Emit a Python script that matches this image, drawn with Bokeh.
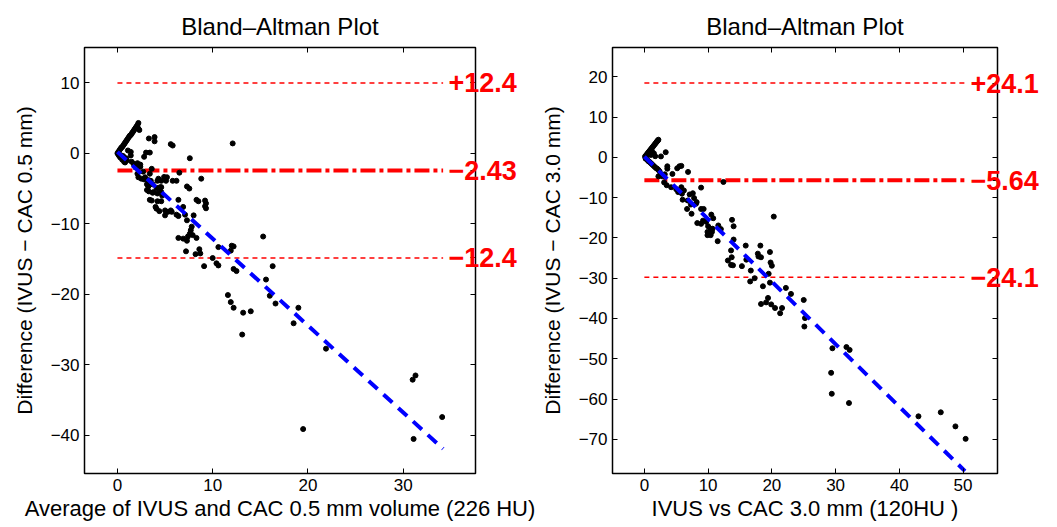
from bokeh.plotting import figure
from bokeh.layouts import row
from bokeh.models import Range1d, FixedTicker, LinearAxis
from bokeh.embed import file_html
from bokeh.resources import INLINE

FONT = "Liberation Sans"
TITLE = "Bland–Altman Plot"

# ---------------- left panel data ----------------
left_xlabel = "Average of IVUS and CAC 0.5 mm volume (226 HU)"
left_ylabel = "Difference (IVUS − CAC 0.5 mm)"
left_xticks = [0, 10, 20, 30]
left_yticks = [-40, -30, -20, -10, 0, 10]
left_mean = -2.43
left_half = 12.4
left_line_x = [0, 34.2]
left_fit_x = [0, 34.2]
left_fit_y = [0.2, -41.9]

left_avg = [0.1, 0.2, 0.3, 0.4, 0.5, 0.6, 0.7, 0.8, 0.9, 1.0, 1.1, 1.2, 1.3, 1.4, 1.5, 1.6, 1.7, 1.8, 1.9, 2.0, 2.1, 2.2,
            0.0, 0.1, 0.2, 0.3, 0.4, 0.5, 0.6, 0.7, 0.9, 1.0, 1.1, 1.4, 1.4, 0.8, 1.5, 1.7, 1.9, 2.1, 2.4, 2.4, 2.7, 2.8, 3.0, 3.4,
            2.3, 2.2, 3.3, 3.9, 3.9, 5.6, 12.1, 5.8, 7.6,
            2.1, 2.2, 2.5, 2.8, 2.9, 3.25, 3.4, 3.5, 3.6, 4.3, 4.6, 4.9, 5.2, 5.1, 5.8, 6.2, 6.5, 7.3, 8.8,
            3.1, 3.25, 3.7, 4.1, 4.2, 4.5, 4.6, 3.1, 3.3, 3.7, 3.8, 4.2, 4.3, 4.6, 4.7, 3.4, 3.6, 4.2, 4.6,
            4.0, 4.1, 4.4, 5.0, 5.0, 5.3, 5.6, 5.7, 6.2, 6.4, 6.4, 6.9, 7.1, 7.3, 7.55, 8.0, 8.3, 8.5, 9.2, 9.3, 9.2, 9.3,
            7.7, 7.8, 7.6, 6.4, 6.9, 7.3, 7.4, 7.9, 8.3, 7.2, 8.2, 8.6, 8.7, 9.1, 10.0, 10.4, 10.6, 10.6,
            11.9, 12.0, 12.2, 12.2, 12.5, 11.6, 11.9, 12.2, 13.2, 14.0, 13.1, 15.3, 15.6, 16.3, 16.0, 16.6,
            19.0, 18.5, 21.9, 19.5, 31.0, 31.3, 31.1, 34.1]
left_diff = [0.2, 0.4, 0.6, 0.8, 0.9, 1.1, 1.3, 1.5, 1.7, 1.9, 2.1, 2.3, 2.5, 2.6, 2.8, 3.0, 3.2, 3.4, 3.6, 3.8, 4.0, 4.3,
             0.0, -0.2, -0.4, -0.6, -0.3, -0.9, -0.4, -1.2, -0.7, -1.0, 0.4, -0.3, 0.2, -1.3, -1.2, -1.5, -2.0, -1.4, -1.6, -1.9, -2.6, -0.5, 0.1, 0.1,
             3.3, 3.5, 2.1, 2.3, 1.7, 1.3, 1.4, 1.1, -0.7,
             -2.9, -3.4, -3.6, -3.7, -3.4, -3.8, -2.9, -3.9, -2.2, -3.6, -3.9, -3.35, -3.4, -3.9, -3.9, -3.9, -2.75, -4.7, -3.6,
             -4.4, -4.7, -4.4, -4.9, -3.9, -4.8, -4.8, -5.2, -5.4, -5.6, -5.5, -5.7, -5.0, -5.5, -6.0, -6.6, -6.7, -6.8, -6.8,
             -7.6, -7.85, -8.2, -8.1, -8.8, -8.3, -8.1, -8.3, -8.7, -8.9, -6.6, -7.6, -8.7, -9.5, -5.0, -8.8, -6.6, -6.8, -6.7, -7.1, -7.5, -7.8,
             -10.9, -10.4, -11.4, -12.0, -12.1, -12.4, -11.8, -11.6, -12.0, -13.9, -14.3, -13.6, -14.2, -16.0, -14.85, -15.6, -15.9, -13.3,
             -13.8, -13.1, -13.2, -16.4, -16.7, -20.1, -21.1, -21.9, -22.6, -22.4, -25.7, -11.8, -17.9, -16.0, -20.2, -21.3,
             -21.9, -24.1, -27.7, -39.1, -32.1, -31.5, -40.5, -37.4]

# ---------------- right panel data ----------------
right_xlabel = "IVUS vs CAC 3.0 mm (120HU )"
right_ylabel = "Difference (IVUS − CAC 3.0 mm)"
right_xticks = [0, 10, 20, 30, 40, 50]
right_yticks = [-70, -60, -50, -40, -30, -20, -10, 0, 10, 20]
right_mean = -5.64
right_half = 24.1
right_line_x = [0, 50.5]
right_fit_x = [0, 50.3]
right_fit_y = [0.2, -77.9]

right_avg = [0.1, 0.25, 0.4, 0.55, 0.7, 0.85, 1.0, 1.15, 1.3, 1.45, 1.6, 1.75, 1.9, 2.0, 2.1, 2.2,
             0.2, 0.4, 0.6, 0.8, 1.0, 1.2, 1.4, 1.6, 1.8, 2.0, 2.2, 2.4,
             0.5, 0.8, 1.0, 1.2, 1.5, 1.7, 2.6, 3.35,
             3.6, 3.6, 5.15, 5.5, 5.8, 6.85, 2.2, 2.8, 3.2, 4.4, 12.4, 3.1, 3.5, 4.2, 5.0, 5.3, 5.8, 6.2, 8.9,
             5.9, 7.1, 7.6, 6.0, 6.8, 7.8, 6.7, 7.3, 8.1, 8.2, 7.4, 8.9, 9.3, 8.3, 8.9, 9.2, 9.7, 10.0, 10.5, 10.8,
             10.4, 9.9, 10.1, 10.4, 9.9, 10.6, 10.7, 11.6, 12.0, 11.5, 13.75, 14.0, 14.0, 13.6, 13.1, 13.7, 13.6, 13.9,
             15.9, 16.0, 15.3, 16.7, 16.6, 17.3, 17.8, 18.2, 17.9, 18.3, 18.6, 18.3, 19.1, 19.4, 19.5, 19.7, 19.8, 20.0,
             19.7, 19.9, 20.5, 21.3, 21.6, 20.3, 22.2, 23.0, 25.0, 25.2, 25.1, 29.5, 31.7, 32.2, 29.3, 29.4, 32.1,
             43.0, 46.5, 48.8, 50.4]
right_diff = [0.2, 0.5, 0.8, 1.1, 1.4, 1.7, 2.0, 2.3, 2.6, 2.9, 3.2, 3.5, 3.8, 4.0, 4.2, 4.4,
              -0.3, -0.5, -0.9, -1.1, -1.4, -1.7, -2.0, -2.3, -2.6, -2.8, -3.1, -3.5,
              0.8, 1.2, 0.6, 1.5, 1.0, 0.3, 0.25, 1.3,
              -2.2, -2.8, -2.7, -2.2, -2.1, -3.6, -4.7, -4.7, -4.2, -4.1, -6.1, -6.2, -6.9, -7.4, -7.9, -8.6, -7.4, -8.2, -7.5,
              -9.0, -9.2, -8.9, -10.5, -10.7, -10.1, -12.8, -11.7, -11.5, -11.1, -14.0, -12.8, -12.8, -16.3, -16.5, -15.7, -16.0, -17.1, -14.2, -15.1,
              -17.7, -18.5, -18.9, -19.3, -19.3, -18.5, -17.7, -16.9, -17.8, -20.8, -15.5, -17.1, -20.4, -23.1, -25.6, -24.8, -26.7, -26.8,
              -21.9, -25.4, -27.0, -28.1, -30.8, -30.0, -23.9, -21.9, -24.6, -24.8, -32.0, -36.4, -36.0, -34.9, -28.9, -23.5, -26.1, -26.9,
              -31.1, -36.5, -37.4, -38.7, -37.4, -14.7, -32.4, -33.9, -35.4, -39.9, -42.0, -47.4, -47.1, -47.8, -53.5, -58.7, -61.0,
              -64.3, -63.3, -66.8, -69.9]


def fmt(v):
    return ("−" + str(abs(v))) if v < 0 else str(v)


def make_panel(width, xr, yr, xticks, yticks, xs, ys, fit_x, fit_y, line_x, mean, half,
               xlabel, ylabel, b_left, b_right):
    p = figure(width=width, height=527, output_backend="svg", toolbar_location=None,
               x_range=Range1d(*xr), y_range=Range1d(*yr),
               min_border_left=b_left, min_border_right=b_right,
               min_border_top=47, min_border_bottom=54,
               x_axis_label=xlabel, y_axis_label=ylabel)
    p.title.text = TITLE
    p.title.align = "center"
    p.title.text_font = FONT
    p.title.text_font_size = "24px"
    p.title.text_font_style = "normal"
    p.title.text_color = "black"
    p.title.standoff = 15
    p.grid.visible = False
    p.outline_line_color = "black"
    p.outline_line_width = 1.5
    p.background_fill_color = "white"
    p.border_fill_color = "white"

    for ax, ticks in ((p.xaxis[0], xticks), (p.yaxis[0], yticks)):
        ax.ticker = FixedTicker(ticks=ticks)
        ax.major_label_overrides = {t: fmt(t) for t in ticks}
        ax.major_tick_in = 5
        ax.major_tick_out = 0
        ax.minor_tick_line_color = None
        ax.axis_line_color = "black"
        ax.major_label_text_font = FONT
        ax.major_label_text_font_size = "17px"
        ax.major_label_text_color = "black"
        ax.axis_label_text_font = FONT
        ax.axis_label_text_font_style = "normal"
        ax.axis_label_text_color = "black"
        ax.major_label_standoff = 5
    p.xaxis[0].axis_label_text_font_size = "22px"
    p.yaxis[0].axis_label_text_font_size = "21px"
    p.xaxis[0].axis_label_standoff = 2
    p.yaxis[0].axis_label_standoff = 12

    # top axis: tick marks only
    top = LinearAxis(ticker=FixedTicker(ticks=xticks), major_tick_in=5, major_tick_out=0,
                     minor_tick_line_color=None, axis_line_color="black",
                     major_label_overrides={t: "" for t in xticks}, major_label_standoff=0)
    p.add_layout(top, "above")

    # right axis: tick marks + red limit labels
    upper = mean + half
    lower = mean - half
    red = {upper: "+" + str(half), mean: fmt(mean), lower: "−" + str(half)}
    overrides = {t: "" for t in yticks}
    overrides.update(red)
    right_ax = LinearAxis(ticker=FixedTicker(ticks=list(yticks) + [upper, mean, lower]),
                          major_tick_in=5, major_tick_out=0, minor_tick_line_color=None,
                          axis_line_color="black", major_label_overrides=overrides,
                          major_label_standoff=-27, major_label_text_color="red",
                          major_label_text_font=FONT, major_label_text_font_size="27px",
                          major_label_text_font_style="bold")
    p.add_layout(right_ax, "right")

    # limits of agreement
    p.line(line_x, [upper, upper], line_color="red", line_width=1.5, line_dash="5 4")
    p.line(line_x, [lower, lower], line_color="red", line_width=1.5, line_dash="5 4")
    p.line(line_x, [mean, mean], line_color="red", line_width=4, line_dash="15 4 4 4")

    # data
    p.scatter(xs, ys, size=5, color="black")
    p.line(fit_x, fit_y, line_color="blue", line_width=4, line_dash="12 8")
    return p


left = make_panel(537, (-3.46, 37.6), (-45.4, 15.0), left_xticks, left_yticks,
                  left_avg, left_diff, left_fit_x, left_fit_y, left_line_x, left_mean, left_half,
                  left_xlabel, left_ylabel, 84, 62)
right = make_panel(520, (-5.0, 55.4), (-78.5, 27.3), right_xticks, right_yticks,
                   right_avg, right_diff, right_fit_x, right_fit_y, right_line_x, right_mean, right_half,
                   right_xlabel, right_ylabel, 70, 60)

layout = row(left, right)
open("out.html", "w").write(file_html(layout, INLINE))
